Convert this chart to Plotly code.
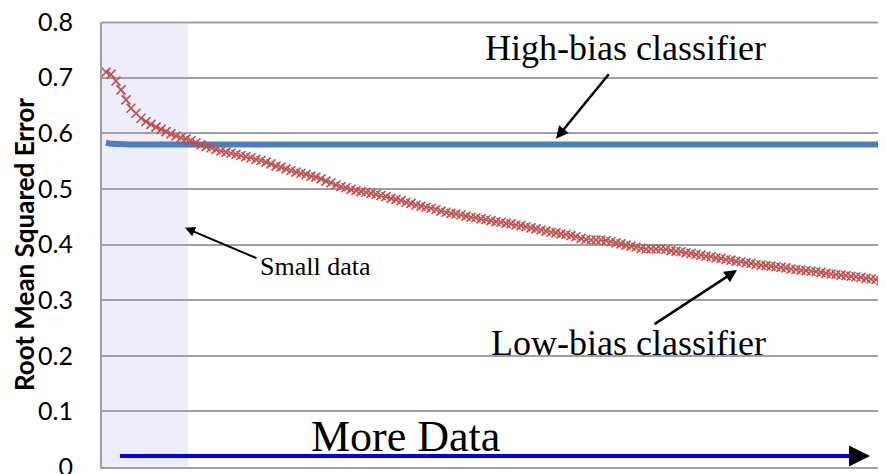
import plotly.graph_objects as go

# RMSE vs training set size (sample index along x)
low_bias_rmse = [
    0.710, 0.706, 0.694, 0.678, 0.660, 0.645, 0.636, 0.627, 0.621, 0.616,
    0.611, 0.607, 0.603, 0.599, 0.595, 0.592, 0.590, 0.587, 0.583, 0.579,
    0.576, 0.574, 0.571, 0.568, 0.566, 0.564, 0.562, 0.560, 0.558, 0.556,
    0.553, 0.551, 0.548, 0.545, 0.541, 0.539, 0.536, 0.533, 0.530, 0.528,
    0.526, 0.523, 0.521, 0.518, 0.514, 0.511, 0.507, 0.504, 0.502, 0.499,
    0.497, 0.495, 0.494, 0.492, 0.490, 0.488, 0.486, 0.483, 0.481, 0.479,
    0.476, 0.474, 0.471, 0.469, 0.467, 0.465, 0.463, 0.460, 0.458, 0.456,
    0.455, 0.453, 0.451, 0.449, 0.448, 0.446, 0.445, 0.443, 0.441, 0.440,
    0.438, 0.437, 0.435, 0.434, 0.432, 0.430, 0.428, 0.426, 0.424, 0.422,
    0.421, 0.419, 0.418, 0.416, 0.414, 0.411, 0.409, 0.408, 0.408, 0.408,
    0.407, 0.405, 0.403, 0.401, 0.399, 0.397, 0.395, 0.393, 0.392, 0.392,
    0.392, 0.392, 0.391, 0.389, 0.388, 0.387, 0.385, 0.384, 0.382, 0.381,
    0.379, 0.378, 0.376, 0.375, 0.373, 0.372, 0.370, 0.369, 0.367, 0.366,
    0.364, 0.363, 0.362, 0.361, 0.360, 0.359, 0.358, 0.356, 0.355, 0.354,
    0.353, 0.352, 0.351, 0.350, 0.348, 0.347, 0.346, 0.345, 0.344, 0.343,
    0.342, 0.341, 0.339, 0.338, 0.337, 0.335, 0.334,
]
low_bias_x = list(range(len(low_bias_rmse)))

high_bias_x = [0, 1, 5, 20, 160]
high_bias_rmse = [0.583, 0.581, 0.580, 0.580, 0.580]

y_ticks = [0, 0.1, 0.2, 0.3, 0.4, 0.5, 0.6, 0.7, 0.8]
y_labels = ["0", "0.1", "0.2", "0.3", "0.4", "0.5", "0.6", "0.7", "0.8"]

small_data_end = 16.4  # end of the "small data" region (x units)

serif = "Liberation Serif"

fig = go.Figure()

fig.add_vrect(x0=-1, x1=small_data_end, fillcolor="#EEEEFB", line_width=0, layer="below")
# top border line (same look as the grid)
fig.add_shape(type="line", xref="paper", yref="paper", x0=0, x1=1, y0=0.999, y1=0.999,
              line=dict(color="#A0A0A0", width=2), layer="above")

fig.add_trace(go.Scatter(
    x=high_bias_x, y=high_bias_rmse, mode="lines",
    line=dict(color="#4A7EC0", width=6),
))
fig.add_trace(go.Scatter(
    x=low_bias_x, y=low_bias_rmse, mode="lines+markers",
    line=dict(color="#C0504D", width=1),
    marker=dict(symbol="x-thin", size=9, line=dict(color="#C0504D", width=1.6)),
))

# "More Data" arrow
fig.add_shape(type="line", x0=2.8, x1=150, y0=0.02, y1=0.02,
              line=dict(color="#0000EE", width=4))
fig.add_annotation(x=152.8, y=0.02, ax=-22, ay=0, text="", showarrow=True,
                   arrowhead=2, arrowsize=1.4, arrowwidth=3, arrowcolor="black")
fig.add_annotation(x=59.8, y=0.055, text="More Data", showarrow=False,
                   font=dict(family=serif, size=44, color="black"))

fig.add_annotation(x=103.8, y=0.754, text="High-bias classifier", showarrow=False,
                   font=dict(family=serif, size=36, color="black"))
fig.add_annotation(x=90, y=0.59, ax=54, ay=-66, text="", showarrow=True,
                   arrowhead=2, arrowsize=1, arrowwidth=2.5, arrowcolor="black")

fig.add_annotation(x=104.4, y=0.223, text="Low-bias classifier", showarrow=False,
                   font=dict(family=serif, size=36, color="black"))
fig.add_annotation(x=126.2, y=0.354, ax=-84, ay=55, text="", showarrow=True,
                   arrowhead=2, arrowsize=1, arrowwidth=2.5, arrowcolor="black")

fig.add_annotation(x=41.8, y=0.361, text="Small data", showarrow=False,
                   font=dict(family=serif, size=26, color="black"))
fig.add_annotation(x=15.8, y=0.43, ax=73, ay=31, text="", showarrow=True,
                   arrowhead=2, arrowsize=1, arrowwidth=2, arrowcolor="black")

fig.add_annotation(xref="paper", yref="paper", x=-0.1, y=0.5, textangle=-90,
                   xanchor="center", yanchor="middle",
                   text="<b>Root Mean Squared Error</b>", showarrow=False,
                   font=dict(family="Lato", size=26, color="black"))

# the page body adds an 8px offset, so the figure is 8px smaller
fig.update_layout(
    width=878, height=466,
    margin=dict(l=94, r=0, t=14, b=7),
    plot_bgcolor="white", paper_bgcolor="white",
    showlegend=False,
)
fig.update_xaxes(range=[-0.8, 156], showticklabels=False, showgrid=False,
                 zeroline=False, showline=True,
                 linecolor="#A0A0A0", linewidth=2, automargin=False)
fig.update_yaxes(range=[0, 0.8], tickvals=y_ticks, ticktext=y_labels,
                 showgrid=True, gridcolor="#A0A0A0", gridwidth=2,
                 zeroline=False, showline=True, linecolor="#A0A0A0", linewidth=2,
                 ticks="outside", ticklen=22, tickcolor="white", tickwidth=1,
                 ticklabeloverflow="allow", automargin=False,
                 tickfont=dict(family="Lato", size=25, color="black"))

fig.write_html("out.html")
